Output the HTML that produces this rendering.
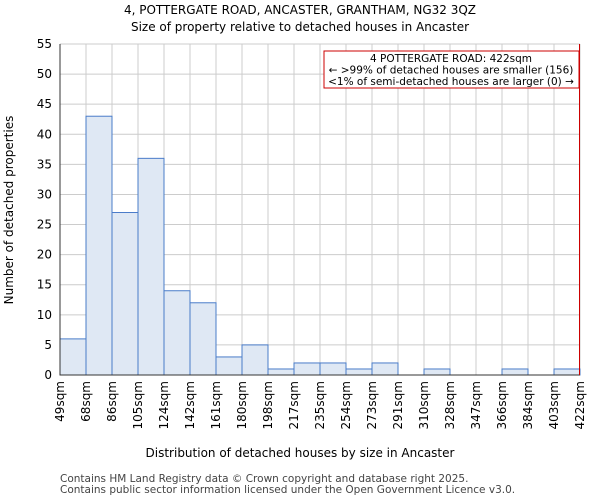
<!DOCTYPE html>
<html><head><meta charset="utf-8"><style>body{margin:0;background:#fff}svg{display:block;font-family:"DejaVu Sans","Liberation Sans",sans-serif}</style></head>
<body>
<svg id="c" width="600" height="500">
<text x="300" y="14" text-anchor="middle" font-size="12">4, POTTERGATE ROAD, ANCASTER, GRANTHAM, NG32 3QZ</text>
<text x="300" y="31" text-anchor="middle" font-size="12">Size of property relative to detached houses in Ancaster</text>
<g id="grid"></g>
<g id="bars"></g>
<g id="axes"></g>
<text x="300" y="457" text-anchor="middle" font-size="12">Distribution of detached houses by size in Ancaster</text>
<text transform="translate(13,210) rotate(-90)" text-anchor="middle" font-size="12">Number of detached properties</text>
<text x="60" y="482" font-size="10.5" fill="#444">Contains HM Land Registry data © Crown copyright and database right 2025.</text>
<text x="60" y="493" font-size="10.5" fill="#444">Contains public sector information licensed under the Open Government Licence v3.0.</text>
<line x1="579.5" y1="44" x2="579.5" y2="375" stroke="#c00" stroke-width="1"/>
<rect x="324" y="51" width="255" height="37" fill="#fff" stroke="#c00" stroke-width="1"/>
<text x="451" y="62" text-anchor="middle" font-size="10.5">4 POTTERGATE ROAD: 422sqm</text>
<text x="451" y="73.5" text-anchor="middle" font-size="10.5">← &gt;99% of detached houses are smaller (156)</text>
<text x="451" y="85" text-anchor="middle" font-size="10.5">&lt;1% of semi-detached houses are larger (0) →</text>
</svg>
<script>
const binLabels=["49sqm","68sqm","86sqm","105sqm","124sqm","142sqm","161sqm","180sqm","198sqm","217sqm","235sqm","254sqm","273sqm","291sqm","310sqm","328sqm","347sqm","366sqm","384sqm","403sqm","422sqm"];
const counts=[6,43,27,36,14,12,3,5,1,2,2,1,2,0,1,0,0,1,0,1];
const yTicks=[0,5,10,15,20,25,30,35,40,45,50,55];
const X0=60,X1=580,Y0=375,Y1=44,YMAX=55;
const nb=counts.length;
const x=i=>X0+(X1-X0)*i/nb;
const y=v=>Y0-(Y0-Y1)*v/YMAX;
const NS="http://www.w3.org/2000/svg";
function mk(t,p,a){const e=document.createElementNS(NS,t);for(const k in a)e.setAttribute(k,a[k]);p.appendChild(e);return e;}
const grid=document.getElementById('grid'),bars=document.getElementById('bars'),axes=document.getElementById('axes');
yTicks.forEach(v=>{
 const l=mk('line',grid,{x1:X0,x2:X1,y1:y(v),y2:y(v),stroke:'#ccc','stroke-width':1});
 
 
 const t=mk('text',axes,{x:X0-8,y:y(v)+4,'text-anchor':'end','font-size':12});
 t.textContent=v;
 
 
});
binLabels.forEach((s,i)=>{
 const l=mk('line',grid,{x1:x(i),x2:x(i),y1:Y1,y2:Y0,stroke:'#ccc','stroke-width':1});
 
 
 const tx=x(i)+4;
 const t=mk('text',axes,{x:tx,y:381,'text-anchor':'end','font-size':12,transform:`rotate(-90 ${tx} 381)`});
 t.textContent=s;
 
 
});
counts.forEach((c,i)=>{
 if(c<=0)return;
 const r=mk('rect',bars,{x:x(i),y:y(c),width:x(i+1)-x(i),height:Y0-y(c),fill:'#dfe8f4',stroke:'#4a7cc9','stroke-width':1});
 
 
});
const ax=mk('path',axes,{d:`M${X0} ${Y1}V${Y0}H${X1}`,fill:'none',stroke:'#333','stroke-width':1});


</script>
</body></html>
